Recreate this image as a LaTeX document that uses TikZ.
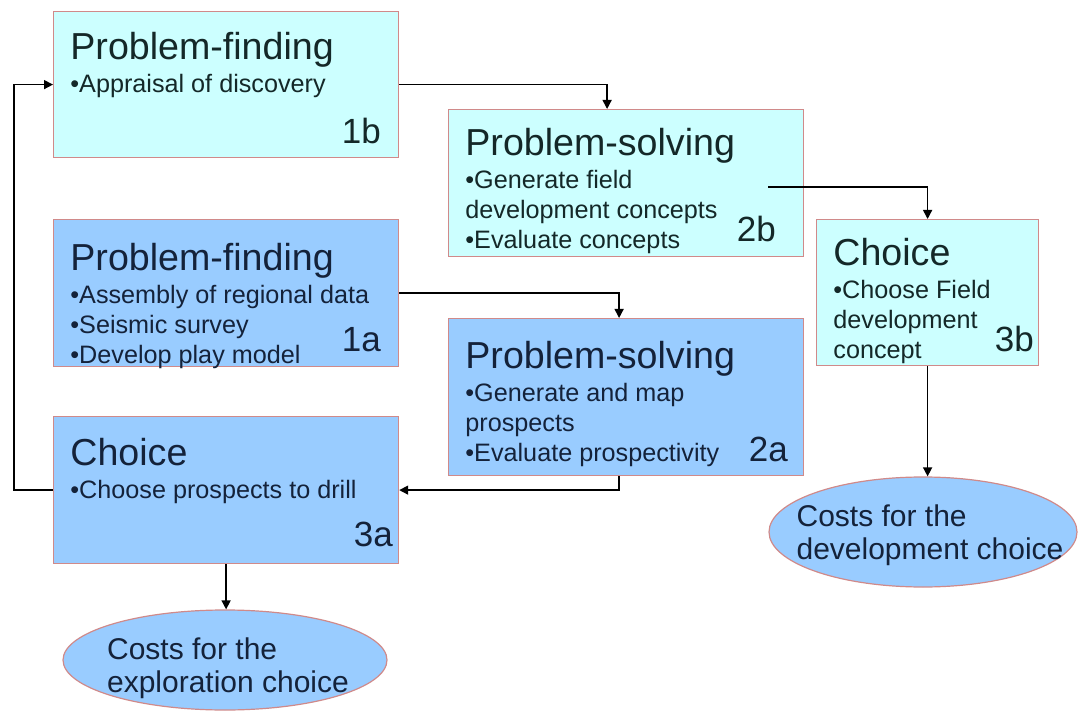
\documentclass[tikz,border=0pt]{standalone}
\usepackage{fontspec}
\setmainfont{Liberation Sans}
\usetikzlibrary{arrows.meta,positioning,calc,shapes.geometric}
\definecolor{lightbox}{HTML}{CCFFFF}
\definecolor{darkbox}{HTML}{99CCFF}
\definecolor{boxline}{HTML}{D08A8A}
\definecolor{inkdark}{HTML}{14223A}
\definecolor{inklight}{HTML}{142828}

\begin{document}
\begin{tikzpicture}[x=0.5pt,y=-0.5pt,>={Triangle[length=4.5pt,width=4.5pt]},
  box/.style={draw=boxline,line width=0.6pt,anchor=north west,inner sep=0pt},
  txt/.style={anchor=north west,inner sep=0pt,align=left,font=\fontsize{12.6}{15}\selectfont},
  num/.style={anchor=base east,inner sep=0pt,font=\fontsize{17.5}{20}\selectfont},
  cost/.style={ellipse,draw=boxline,line width=0.6pt,fill=darkbox,inner sep=0pt},
  costtxt/.style={align=left,inner sep=0pt,text=inkdark,font=\fontsize{15}{16.5}\selectfont},
  link/.style={->,line width=0.7pt}]
\useasboundingbox (0,0) rectangle (1080,715);
\newcommand{\ttl}[1]{{\fontsize{18.8}{22}\selectfont #1}\\[1.5pt]}

% upper row: appraisal / development
\node[box,fill=lightbox,minimum width=172.5pt,minimum height=73pt] (b1) at (53,11) {};
\node[txt,text=inklight] (b1t) at ($(b1.north west)+(17,21)$) {\ttl{Problem-finding}•Appraisal of discovery};
\node[num,text=inklight] (b1n) at ($(b1.south east)+(-18,-15)$) {1b};

\node[box,fill=lightbox,minimum width=177.5pt,minimum height=73.5pt] (b2) at (448,109) {};
\node[txt,text=inklight] (b2t) at ($(b2.north west)+(17,19)$) {\ttl{Problem-solving}•Generate field\\development concepts\\•Evaluate concepts};
\node[num,text=inklight] (b2n) at ($(b2.south east)+(-28,-16)$) {2b};

\node[box,fill=lightbox,minimum width=111pt,minimum height=73pt] (b3) at (816,219) {};
\node[txt,text=inklight] (b3t) at ($(b3.north west)+(17,19)$) {\ttl{Choice}•Choose Field\\development\\concept};
\node[num,text=inklight] (b3n) at ($(b3.south east)+(-5,-15)$) {3b};

% lower row: exploration
\node[box,fill=darkbox,minimum width=172.5pt,minimum height=73.5pt] (a1) at (53,219) {};
\node[txt,text=inkdark] (a1t) at ($(a1.north west)+(17,24)$) {\ttl{Problem-finding}•Assembly of regional data\\•Seismic survey\\•Develop play model};
\node[num,text=inkdark] (a1n) at ($(a1.south east)+(-18,-16)$) {1a};

\node[box,fill=darkbox,minimum width=177.5pt,minimum height=78.5pt] (a2) at (448,318) {};
\node[txt,text=inkdark] (a2t) at ($(a2.north west)+(17,23)$) {\ttl{Problem-solving}•Generate and map\\prospects\\•Evaluate prospectivity};
\node[num,text=inkdark] (a2n) at ($(a2.south east)+(-16,-15)$) {2a};

\node[box,fill=darkbox,minimum width=172.5pt,minimum height=73.5pt] (a3) at (53,416) {};
\node[txt,text=inkdark] (a3t) at ($(a3.north west)+(17,22)$) {\ttl{Choice}•Choose prospects to drill};
\node[num,text=inkdark] (a3n) at ($(a3.south east)+(-6,-18)$) {3a};

% costs
\node[cost,minimum width=162pt,minimum height=50pt] (cexp) at (225,660) {};
\node[costtxt] (cexpt) at ($(cexp.center)+(3,8)$) {Costs for the\\exploration choice};
\node[cost,minimum width=154pt,minimum height=55pt] (cdev) at (923,532) {};
\node[costtxt] (cdevt) at ($(cdev.center)+(7,3)$) {Costs for the\\development choice};

% connectors
\draw[link] (b1.east) -| ($(b2.north)+(-19,0)$);
\draw[link] ($(b2.east)+(-36,4)$) -| (b3.north);
\draw[link] (a1.east) -| ($(a2.north)+(-7,0)$);
\draw[link] ($(a2.south)+(-7,0)$) |- (a3.east);
\draw[link] (a3.west) -- ++(-39,0) |- (b1.west);
\draw[link] (a3.south) -- (a3.south |- cexp.north);
\draw[link] (b3.south) -- (b3.south |- cdev.north);
\end{tikzpicture}
\end{document}
